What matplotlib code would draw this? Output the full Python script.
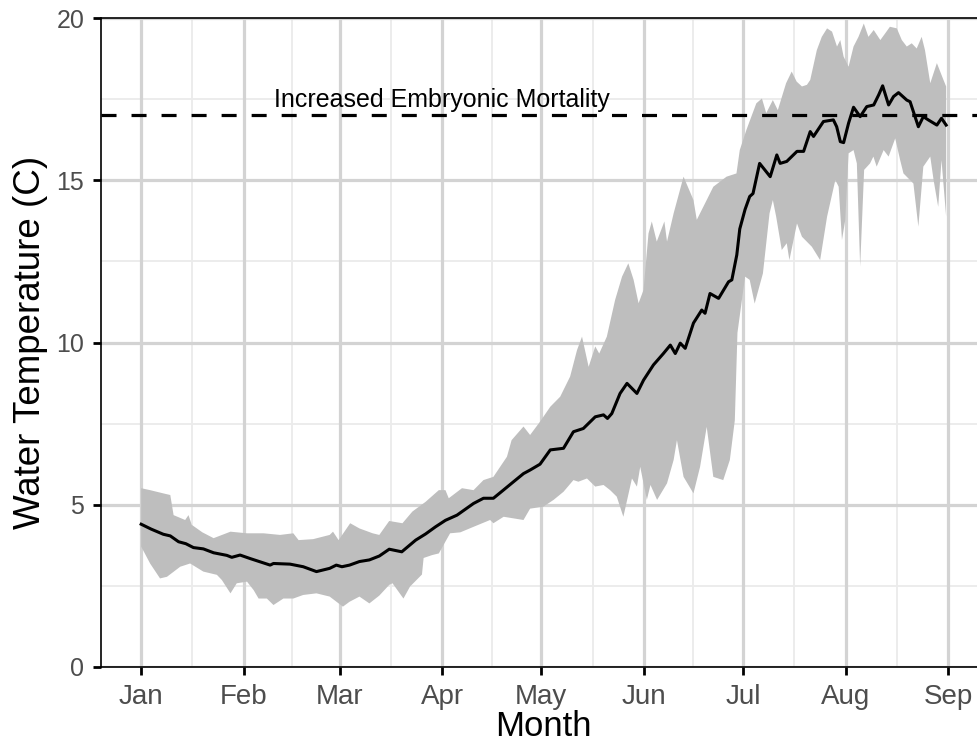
import numpy as np
import matplotlib
matplotlib.use("Agg")
import matplotlib.pyplot as plt

plt.rcParams['font.family'] = ['Liberation Sans', 'DejaVu Sans']

# days counted from Jan 1 (leap year)
month_starts = [0, 31, 60, 91, 121, 152, 182, 213, 244]
month_labels = ["Jan", "Feb", "Mar", "Apr", "May", "Jun", "Jul", "Aug", "Sep"]

# daily mean water temperature
mean_days = [0, 3, 6.7, 8.8, 11.3, 13.5, 15.8, 18.8, 21.9, 25.9, 27.4, 29.9, 33, 36, 39, 40,
             45, 49, 53, 57, 59, 60.7, 63, 66, 69, 72, 75, 78.8, 83, 86, 89, 92, 95.5,
             100.5, 103.5, 106.5, 109.5, 112.6, 115.6, 117.6, 120.6, 123.7, 127.7, 130.7,
             133.7, 137.3, 139.8, 141, 142.3, 144.8, 146.9, 149.9, 151.9, 154.9, 157.9,
             160, 161.5, 163, 164.5, 167, 169.5, 170.5, 172, 174.6, 177.6, 178.6, 180.1,
             181, 182.6, 184, 185, 187, 190.2, 192.2, 193.2, 195.2, 198.3, 200.3, 202.3,
             203.3, 206.3, 209.3, 210.3, 211.4, 212.4, 213.9, 215.4, 217.4, 219.4, 221.5,
             223, 224.2, 226, 227.5, 229, 231.5, 232.5, 235, 236.5, 238, 240.6, 242, 243.4]
mean_temp = [4.40, 4.25, 4.09, 4.04, 3.86, 3.80, 3.68, 3.64, 3.52, 3.44, 3.38, 3.45, 3.34,
             3.24, 3.14, 3.19, 3.17, 3.09, 2.94, 3.04, 3.14, 3.09, 3.14, 3.25, 3.30, 3.42,
             3.63, 3.55, 3.91, 4.10, 4.32, 4.52, 4.68, 5.04, 5.20, 5.20, 5.45, 5.71, 5.96,
             6.07, 6.25, 6.69, 6.74, 7.25, 7.35, 7.71, 7.77, 7.66, 7.81, 8.43, 8.74, 8.43,
             8.84, 9.31, 9.66, 9.92, 9.66, 9.98, 9.82, 10.60, 11.00, 10.90, 11.51, 11.36,
             11.87, 11.93, 12.70, 13.50, 14.10, 14.50, 14.59, 15.52, 15.11, 15.78, 15.52,
             15.58, 15.89, 15.89, 16.50, 16.35, 16.81, 16.86, 16.65, 16.19, 16.16, 16.76,
             17.25, 16.96, 17.27, 17.32, 17.63, 17.91, 17.32, 17.58, 17.70, 17.47, 17.42,
             16.65, 16.96, 16.86, 16.70, 16.91, 16.70]

# upper edge of the range
upper_days = [0, 2.7, 6.7, 8.8, 9.8, 13.3, 14.3, 15.3, 18.5, 21.9, 27, 32, 37, 42, 46, 47.6,
              52, 57, 58, 59.7, 63.2, 66, 70, 72, 75, 79, 82, 84, 86, 90, 92, 93, 97, 100.5,
              103.5, 106.5, 110.6, 112, 115.6, 117.6, 120.6, 123.7, 126.7, 129.7, 131.8,
              133.3, 135.3, 137.3, 138.5, 140.8, 143.3, 145.4, 147.3, 148.9, 150.4, 151.9,
              153.4, 154.4, 155.9, 158.2, 159, 161, 164, 167, 168, 171, 173, 177, 180, 181,
              183, 186, 187.7, 189, 191, 192.5, 195, 196.7, 198.2, 199.8, 201.3, 202.3,
              204.3, 205.8, 207.4, 208.9, 210.4, 211.4, 212.4, 213.9, 215.4, 216.9, 218.5,
              219.9, 221.5, 223.5, 225, 226.4, 228.5, 230, 231.5, 233, 234.5, 236, 237,
              238.6, 240.6, 242.6, 243.4]
upper_temp = [5.51, 5.45, 5.35, 5.30, 4.68, 4.53, 4.68, 4.38, 4.15, 3.97, 4.17, 4.12, 4.12,
              4.07, 4.12, 3.91, 3.94, 4.07, 4.17, 3.91, 4.43, 4.27, 4.12, 4.07, 4.50, 4.43,
              4.79, 4.94, 5.09, 5.45, 5.45, 5.20, 5.51, 5.45, 5.76, 5.86, 6.48, 6.99, 7.41,
              7.15, 7.56, 8.02, 8.33, 8.95, 9.77, 10.18, 9.25, 9.88, 9.66, 10.18, 11.31,
              12.03, 12.44, 11.93, 11.21, 11.62, 13.36, 13.73, 13.11, 13.73, 13.11, 13.98,
              15.11, 14.39, 13.78, 14.39, 14.80, 15.11, 15.21, 15.93, 16.55, 17.37, 17.52,
              17.07, 17.47, 17.16, 17.99, 18.35, 18.04, 17.89, 17.94, 18.09, 19.01, 19.42,
              19.68, 19.58, 19.12, 19.32, 18.81, 18.50, 19.12, 19.42, 19.83, 19.42, 19.63,
              19.32, 19.53, 19.73, 19.68, 19.32, 19.12, 19.22, 19.06, 19.42, 19.01, 17.99,
              18.61, 18.09, 17.89]

# lower edge of the range
lower_days = [0, 2.7, 5.7, 7.8, 11.8, 14.8, 18.8, 22.9, 24.4, 27, 28.9, 32, 34, 35.5, 38, 40,
              43, 46, 49, 53, 57, 61, 63, 66, 69, 72, 75, 76, 79.3, 81.3, 84.9, 85.4, 88, 90,
              93.4, 96.5, 100.5, 105.5, 106.5, 109.6, 115.6, 117.6, 121.6, 124.7, 127.7,
              130.7, 132.2, 134.8, 137.3, 139.8, 141.8, 143.8, 145.8, 148.4, 149.9, 150.9,
              152.9, 154, 156, 159, 161, 162, 164, 167, 169, 171, 173, 176, 178, 179.5, 180.3,
              182.6, 184, 185.5, 188, 190, 191, 192, 193.7, 195.2, 196, 198.3, 199.8, 202.8,
              205.3, 207.4, 209.9, 210.9, 211.9, 212.9, 213.9, 215.4, 216.4, 217.4, 218.6,
              220.4, 221.4, 222.4, 224.5, 226, 228, 229.5, 230.5, 233.5, 235, 236.5, 238.6,
              239.6, 241, 242, 243.4]
lower_temp = [3.71, 3.19, 2.73, 2.78, 3.09, 3.19, 2.94, 2.84, 2.68, 2.27, 2.58, 2.63, 2.37,
              2.11, 2.11, 1.91, 2.11, 2.11, 2.22, 2.27, 2.17, 1.86, 2.01, 2.17, 1.96, 2.20,
              2.53, 2.58, 2.11, 2.48, 2.85, 3.36, 3.45, 3.50, 4.12, 4.15, 4.32, 4.53, 4.43,
              4.63, 4.53, 4.88, 4.94, 5.15, 5.40, 5.76, 5.71, 5.81, 5.56, 5.61, 5.45, 5.25,
              4.63, 5.81, 5.56, 6.17, 5.15, 5.61, 5.15, 5.66, 6.38, 6.99, 5.86, 5.35, 6.17,
              7.40, 5.86, 5.76, 6.38, 7.60, 10.30, 12.03, 11.93, 11.20, 12.13, 13.98, 14.39,
              13.88, 12.85, 13.06, 12.54, 13.67, 13.26, 12.95, 12.54, 13.88, 15.01, 14.80,
              13.16, 13.78, 15.83, 15.93, 15.52, 12.34, 15.32, 15.52, 15.73, 15.42, 15.93,
              15.73, 16.29, 15.62, 15.21, 14.90, 13.57, 15.42, 15.73, 15.01, 14.18, 15.62,
              13.88]

threshold = 17
threshold_label = "Increased Embryonic Mortality"

fig = plt.figure(figsize=(9.77, 7.5), dpi=100)
ax = fig.add_axes([101 / 977, 83 / 750, 884 / 977, 649 / 750])

# grid: minor lines halfway between months / every 2.5 C
minor_x = [(a + b) / 2 for a, b in zip(month_starts[:-1], month_starts[1:])]
for x in minor_x:
    ax.axvline(x, color="#ebebeb", lw=1.3, zorder=0)
for y in [2.5, 7.5, 12.5, 17.5]:
    ax.axhline(y, color="#ebebeb", lw=1.3, zorder=0)
for x in month_starts:
    ax.axvline(x, color="#d3d3d3", lw=2.3, zorder=0.5)
for y in [0, 5, 10, 15, 20]:
    ax.axhline(y, color="#d3d3d3", lw=2.3, zorder=0.5)

band_x = np.concatenate([upper_days, lower_days[::-1]])
band_y = np.concatenate([upper_temp, lower_temp[::-1]])
ax.fill(band_x, band_y, color="#bebebe", lw=0, zorder=1)

ax.plot(mean_days, mean_temp, color="black", lw=2.2, zorder=3)

ax.axhline(threshold, color="black", lw=2.3, dashes=(4.7, 4.7), zorder=2)
ax.text(91, 17.25, threshold_label, ha="center", va="baseline",
        fontsize=18, color="black", zorder=4)

ax.set_xlim(-12.15, 255.15)
ax.set_ylim(0, 20)
ax.set_xticks(month_starts)
ax.set_xticklabels(month_labels)
ax.set_yticks([0, 5, 10, 15, 20])

ax.tick_params(axis="both", length=6, width=2, color="black",
               labelcolor="#4d4d4d", pad=6)
ax.tick_params(axis="x", labelsize=20)
ax.tick_params(axis="y", labelsize=18)
for side in ["left", "bottom", "top", "right"]:
    ax.spines[side].set_linewidth(1.2)
    ax.spines[side].set_color("black")

ax.set_xlabel("Month", fontsize=25, labelpad=0)
ax.set_ylabel("Water Temperature (C)", fontsize=26.5, labelpad=6)

fig.savefig("out.png", dpi=100)
